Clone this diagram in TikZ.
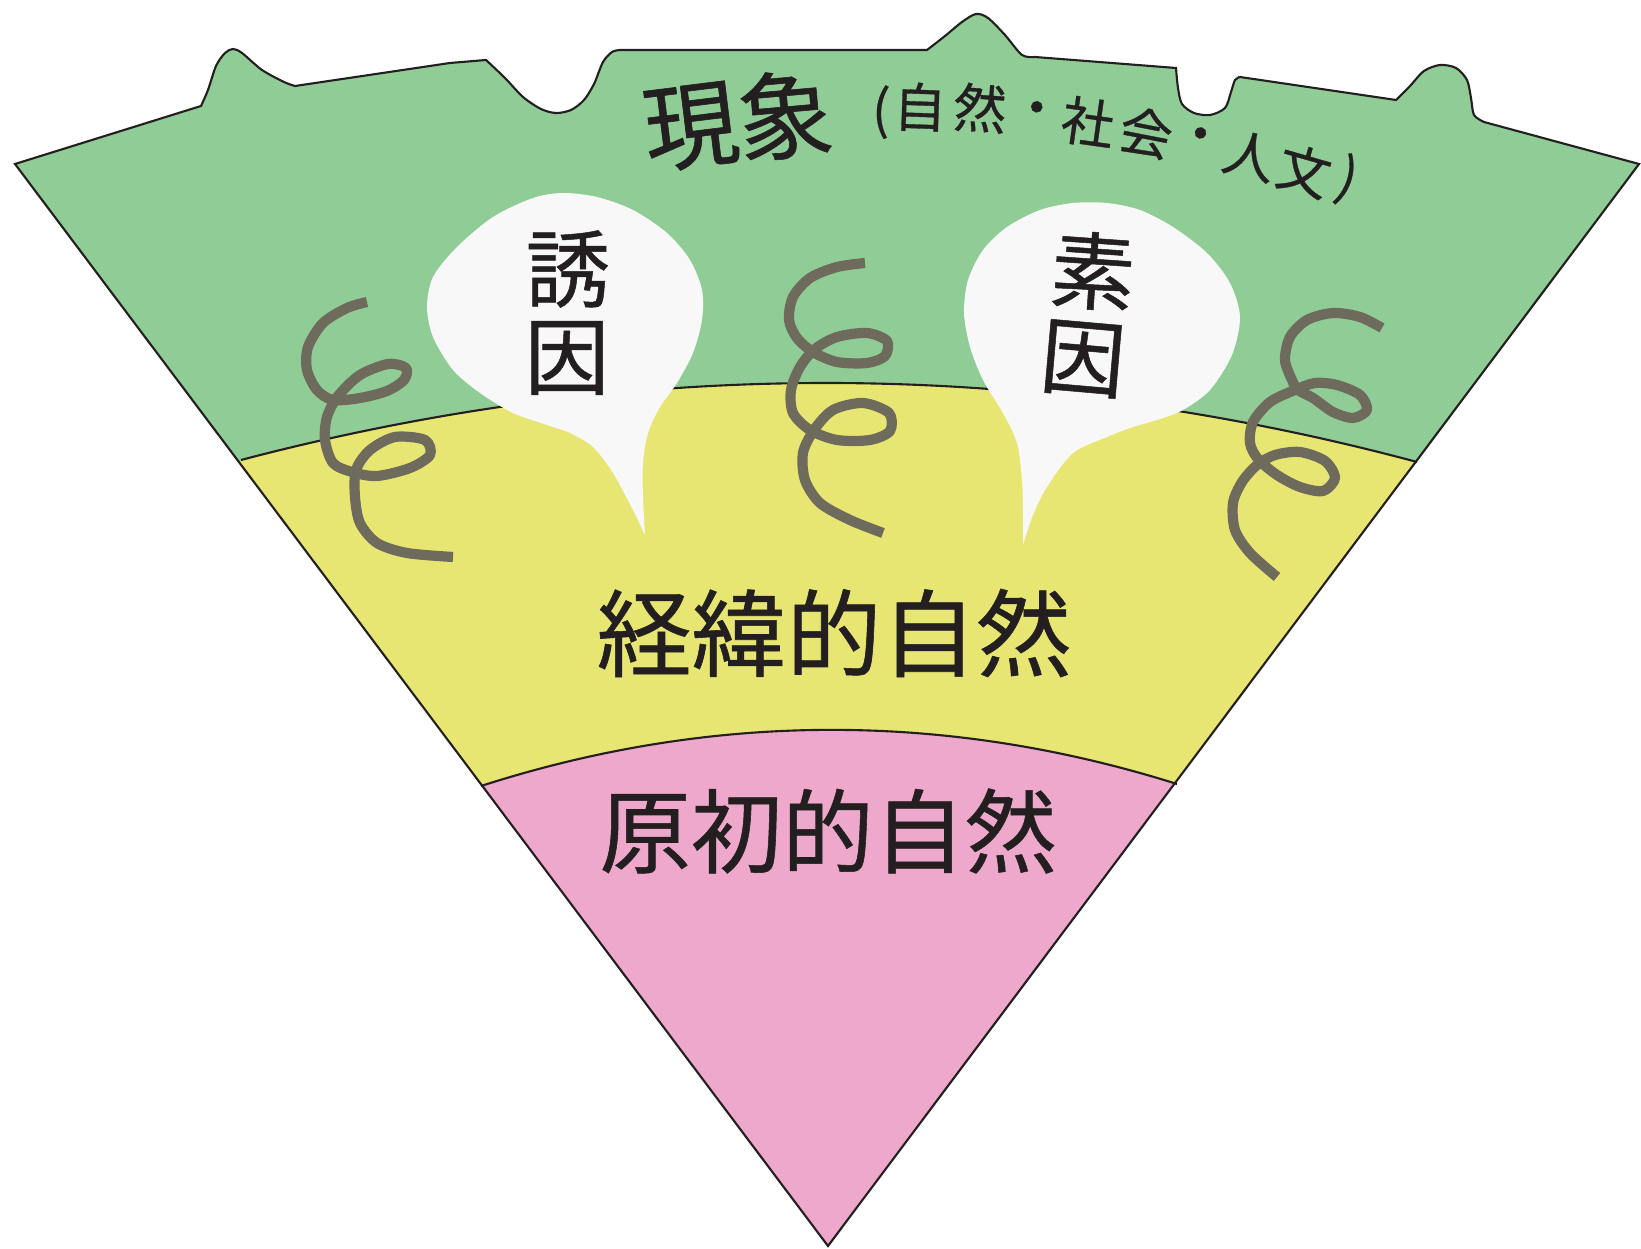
\documentclass[tikz,border=0pt]{standalone}
\usepackage{fontspec}
\newfontfamily\jp[FakeBold=0.6]{Noto Sans CJK JP}
\definecolor{phengreen}{RGB}{144,204,150}
\definecolor{midyellow}{RGB}{232,230,115}
\definecolor{corepink}{RGB}{237,168,203}
\definecolor{bubble}{RGB}{248,248,248}
\definecolor{coil}{RGB}{110,107,93}
\definecolor{ink}{RGB}{35,31,32}
\newcommand{\middot}{\makebox[0.3em]{・}}
\begin{document}
\begin{tikzpicture}[x=0.01cm,y=-0.01cm,
  edge/.style={draw=ink,line width=0.6pt},
  coilline/.style={draw=coil,line width=2.9pt,line cap=butt,line join=round},
  bigtxt/.style={text=ink,inner sep=0pt,font=\jp\fontsize{27}{27}\selectfont},
  coretxt/.style={text=ink,inner sep=0pt,font=\jp\fontsize{26}{26}\selectfont},
  smalltxt/.style={text=ink,inner sep=0pt,font=\jp\fontsize{15}{15}\selectfont},
  bubtxt/.style={text=ink,inner sep=0pt,font=\jp\fontsize{24}{24}\selectfont}]
\useasboundingbox (0,0) rectangle (1641,1249);

% outline of the fan
\def\fan{(15,164) -- (201,106)
  -- plot[smooth] coordinates {(201,106) (208,90) (216,66) (225,53) (233,49) (242,53) (262,70) (284,82) (295,86)}
  -- (450,63) -- (486,60)
  -- plot[smooth] coordinates {(486,60) (505,78) (523,97) (541,109) (556,113) (571,110) (584,100) (594,84) (603,62) (612,52) (620,50)}
  -- (927,50)
  -- plot[smooth] coordinates {(927,50) (945,36) (962,22) (976,14) (988,18) (1005,35) (1022,55) (1035,57)}
  -- (1176,68)
  -- plot[smooth] coordinates {(1176,68) (1178,88) (1182,104) (1194,113) (1210,115) (1225,108) (1231,92) (1235,80) (1240,77)}
  -- (1396,100)
  -- plot[smooth] coordinates {(1396,100) (1410,86) (1424,71) (1440,65) (1456,68) (1467,80) (1471,98) (1474,115) (1484,122)}
  -- (1639,164) -- (828,1246) -- cycle}

\fill[phengreen] \fan;
\begin{scope}
  \clip \fan;
  \fill[midyellow] (241,460) .. controls (633,357) and (1025,357) .. (1417,462)
    -- (1800,1400) -- (-200,1400) -- cycle;
  \fill[corepink] (481,786) .. controls (711,712) and (945,711) .. (1177,784)
    -- (1800,1400) -- (-200,1400) -- cycle;
\end{scope}
\draw[edge] (241,460) .. controls (633,357) and (1025,357) .. (1417,462);
\draw[edge] (481,786) .. controls (711,712) and (945,711) .. (1177,784);
\draw[edge] \fan;

% speech bubbles
\fill[bubble] plot[smooth] coordinates {(645,535) (633,510) (613,473) (593,447) (570,433)
  (547,425) (513,413) (480,393) (453,370) (433,337) (427,307) (433,277) (457,247)
  (493,217) (533,198) (563,193) (597,197) (633,210) (667,233) (690,260) (702,290)
  (702,320) (693,353) (677,383) (660,407) (648,433) (643,463) (643,497) (645,535)} -- cycle;
\fill[bubble] plot[smooth] coordinates {(1023,545) (1023,510) (1022,480) (1017,443)
  (1003,413) (983,380) (970,347) (964,313) (968,280) (983,250) (1007,227) (1040,210)
  (1073,203) (1107,203) (1140,210) (1173,227) (1207,253) (1230,283) (1240,317)
  (1232,355) (1210,390) (1183,410) (1157,420) (1130,428) (1107,437) (1073,453)
  (1047,487) (1033,515) (1023,545)} -- cycle;

% coils
\draw[coilline] plot[smooth] coordinates {(367,302) (347,308) (323,323) (308,347)
  (307,370) (317,390) (333,400) (360,398) (387,391) (404,380) (406,368) (388,364)
  (360,375) (338,396) (327,417) (325,440) (333,463) (352,472) (377,476) (410,468)
  (430,455) (425,440) (395,437) (370,450) (356,470) (355,497) (360,523) (377,543)
  (407,553) (453,557)};
\draw[coilline] plot[smooth] coordinates {(865,263) (837,267) (810,278) (793,297)
  (789,320) (797,338) (813,352) (837,362) (867,363) (885,356) (887,341) (867,333)
  (837,337) (815,349) (800,367) (791,390) (793,413) (810,430) (837,440) (870,440)
  (890,431) (889,413) (863,403) (833,410) (814,430) (803,453) (805,480) (820,503)
  (850,520) (883,533)};
\draw[coilline] plot[smooth] coordinates {(1382,328) (1360,317) (1333,313) (1307,320)
  (1290,337) (1285,360) (1292,380) (1298,390) (1313,398) (1333,412) (1353,418)
  (1367,410) (1360,395) (1337,385) (1315,383) (1295,390) (1270,402) (1253,422)
  (1250,443) (1258,459) (1277,475) (1300,487) (1323,491) (1335,478) (1325,461)
  (1300,452) (1275,455) (1257,465) (1242,482) (1233,503) (1235,530) (1250,553)
  (1277,577)};

% labels
\node[bigtxt,rotate=7] (gen) at (691,127) {現};
\node[bigtxt,rotate=5] (sho) at (785,115) {象};
\node[smalltxt,rotate=-2] (lp) at (881,112) {(};
\node[smalltxt,rotate=-2] (s1) at (920,107) {自};
\node[smalltxt,rotate=-4] (s2) at (980,108) {然};
\node[smalltxt,rotate=-6] (d1) at (1036,114) {\middot};
\node[smalltxt,rotate=-8] (s3) at (1088,122) {社};
\node[smalltxt,rotate=-11] (s4) at (1146,133) {会};
\node[smalltxt,rotate=-12] (d2) at (1199,140) {\middot};
\node[smalltxt,rotate=-14] (s5) at (1250,156) {人};
\node[smalltxt,rotate=-16] (s6) at (1304,171) {文};
\node[smalltxt,rotate=-18] (rp) at (1347,180) {)};

\node[bubtxt] (yu) at (568,269) {誘};
\node[bubtxt] (in1) at (567,358) {因};
\node[bubtxt,rotate=-4] (so) at (1093,271) {素};
\node[bubtxt,rotate=-5] (in2) at (1083,359) {因};

\node[bigtxt] (keii) at (834,633) {経緯的自然};
\node[coretxt] (gensho) at (828,831) {原初的自然};
\end{tikzpicture}
\end{document}
